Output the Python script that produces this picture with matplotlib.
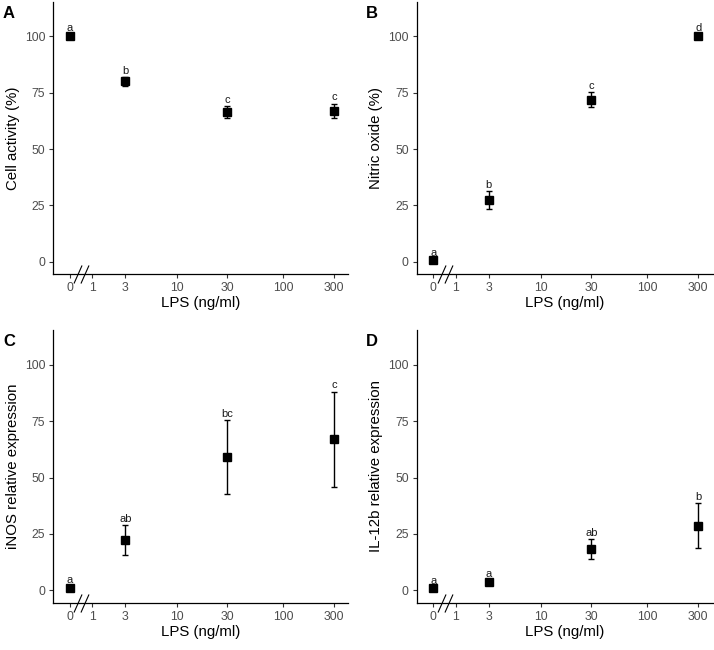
import numpy as np
import matplotlib
matplotlib.use("Agg")
import matplotlib.pyplot as plt
from matplotlib.path import Path

plt.rcParams['font.family'] = ['Liberation Sans', 'DejaVu Sans']

# LPS doses (ng/ml)
dose = [0, 3, 30, 300]
x_ticks = [0, 1, 3, 10, 30, 100, 300]

# A: cell activity (%)
cell_mean = [100.2, 80.0, 66.4, 67.0]
cell_se = [0.6, 1.8, 2.6, 3.1]
cell_letters = ['a', 'b', 'c', 'c']

# B: nitric oxide (%)
no_mean = [0.5, 27.4, 71.9, 100.2]
no_se = [0.4, 4.0, 3.2, 0.6]
no_letters = ['a', 'b', 'c', 'd']

# C: iNOS relative expression
inos_mean = [1.0, 22.3, 59.2, 67.0]
inos_se = [0.6, 6.7, 16.4, 21.2]
inos_letters = ['a', 'ab', 'bc', 'c']

# D: IL-12b relative expression
il12_mean = [1.0, 3.6, 18.2, 28.6]
il12_se = [0.5, 0.9, 4.4, 10.0]
il12_letters = ['a', 'a', 'ab', 'b']

panels = [
    ('A', 'Cell activity (%)', cell_mean, cell_se, cell_letters),
    ('B', 'Nitric oxide (%)', no_mean, no_se, no_letters),
    ('C', 'iNOS relative expression', inos_mean, inos_se, inos_letters),
    ('D', 'IL-12b relative expression', il12_mean, il12_se, il12_letters),
]

# pseudo-log axis: asinh(x/2)
def fwd(x):
    return np.arcsinh(np.asarray(x, dtype=float) / 2.0)

def inv(t):
    return 2.0 * np.sinh(np.asarray(t, dtype=float))

t0, t1 = fwd(0), fwd(300)
xlim = (inv(t0 - 0.36), inv(t1 + 0.31))
x_break = inv((fwd(0) + fwd(1)) / 2)

# "//" break marker
brk = Path([(-0.83, -1), (0.06, 1), (-0.06, -1), (0.83, 1)],
           [Path.MOVETO, Path.LINETO, Path.MOVETO, Path.LINETO])

fig = plt.figure(figsize=(7.14, 6.5), dpi=100)
W, H = 714.0, 650.0
boxes = [
    (53.3, 1.5, 348.3, 274.0),
    (416.7, 1.5, 712.7, 274.0),
    (53.3, 330.0, 348.3, 602.7),
    (416.7, 330.0, 712.7, 602.7),
]
label_pos = [(3, 14), (366, 14), (3, 341), (366, 341)]

for (tag, ylab, mean, se, letters), (l, t, r, b), (lx, ly) in zip(panels, boxes, label_pos):
    ax = fig.add_axes([l / W, 1 - b / H, (r - l) / W, (b - t) / H])
    ax.set_xscale('function', functions=(fwd, inv))
    ax.errorbar(dose, mean, yerr=se, fmt='none', ecolor='black',
                elinewidth=1.0, capsize=2.3, capthick=1.0, zorder=2)
    ax.plot(dose, mean, 's', color='black', markersize=6, zorder=3)
    for xi, m, s, lt in zip(dose, mean, se, letters):
        ax.annotate(lt, (xi, m + s), xytext=(0, 1.0), textcoords='offset points',
                    ha='center', va='bottom', fontsize=8, color='#1a1a1a')
    ax.set_xlim(xlim)
    ax.set_ylim(-5.5, 115.5)
    ax.set_xticks(x_ticks)
    ax.set_xticklabels([str(v) for v in x_ticks])
    ax.minorticks_off()
    ax.set_yticks([0, 25, 50, 75, 100])
    ax.tick_params(axis='both', length=3.2, width=0.8, color='#333333',
                   labelcolor='#4D4D4D', labelsize=8.8, pad=2.5)
    for side in ['top', 'right']:
        ax.spines[side].set_visible(False)
    for side in ['left', 'bottom']:
        ax.spines[side].set_linewidth(0.9)
    ax.set_xlabel('LPS (ng/ml)', fontsize=10.8, labelpad=1.5)
    ax.set_ylabel(ylab, fontsize=10.8, labelpad=3.5)
    ax.plot([x_break], [-5.5], marker=brk, markersize=13, color='black',
            markeredgewidth=0.8, fillstyle='none', clip_on=False, zorder=4)
    fig.text(lx / W, 1 - ly / H, tag, fontsize=12, fontweight='bold',
             ha='left', va='center')

fig.savefig('out.png', dpi=100)
